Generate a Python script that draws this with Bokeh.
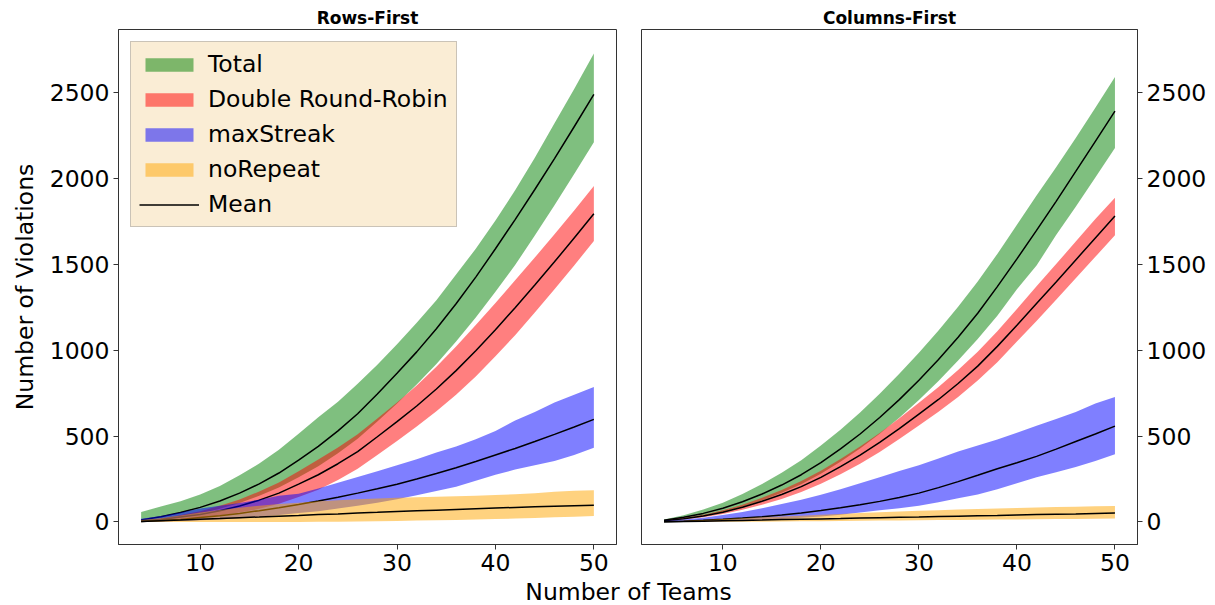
from bokeh.plotting import figure
from bokeh.models import Range1d, FixedTicker, Legend, LegendItem, Label
from bokeh.layouts import row, column
from bokeh.embed import file_html
from bokeh.resources import INLINE

teams = [4, 6, 8, 10, 12, 14, 16, 18, 20, 22, 24, 26, 28, 30, 32, 34, 36, 38, 40, 42, 44, 46, 48, 50]

# ---------------- Rows-First ----------------
rf_total_mean = [12, 30, 55, 85, 122, 168, 222, 285, 360, 440, 530, 630, 745, 865, 990, 1125, 1270, 1425, 1590, 1760, 1935, 2115, 2300, 2488]
rf_total_hi = [58, 90, 120, 160, 210, 272, 340, 420, 514, 610, 700, 805, 915, 1035, 1160, 1290, 1440, 1590, 1755, 1930, 2120, 2320, 2520, 2727]
rf_total_lo = [5, 15, 30, 50, 77, 110, 152, 200, 260, 325, 400, 485, 585, 690, 800, 920, 1050, 1190, 1340, 1495, 1667, 1843, 2025, 2210]

rf_drr_mean = [6, 15, 29, 43, 66, 93, 127, 168, 220, 275, 339, 410, 496, 584, 675, 774, 881, 996, 1119, 1247, 1379, 1514, 1653, 1794]
rf_drr_hi = [9, 21, 41, 63, 94, 131, 177, 230, 295, 363, 434, 510, 602, 696, 795, 904, 1021, 1146, 1274, 1407, 1539, 1674, 1813, 1955]
rf_drr_lo = [3, 9, 17, 23, 38, 55, 77, 106, 145, 187, 244, 310, 390, 472, 555, 644, 741, 846, 964, 1087, 1219, 1354, 1493, 1635]

rf_ms_mean = [3, 8, 15, 26, 36, 50, 66, 83, 102, 122, 144, 168, 193, 220, 250, 282, 316, 352, 390, 428, 468, 510, 553, 597]
rf_ms_hi = [19, 35, 55, 78, 95, 110, 130, 152, 165, 195, 228, 262, 295, 330, 365, 405, 440, 482, 530, 590, 640, 695, 740, 785]
rf_ms_lo = [1, 3, 6, 10, 15, 22, 30, 40, 52, 62, 78, 95, 112, 132, 155, 180, 205, 240, 275, 305, 330, 355, 390, 432]

rf_nr_mean = [3, 7, 11, 16, 20, 25, 29, 34, 38, 43, 47, 52, 56, 61, 65, 69, 73, 77, 81, 85, 88, 91, 94, 97]
rf_nr_hi = [12, 22, 38, 55, 70, 83, 95, 105, 112, 120, 126, 132, 137, 141, 144, 147, 150, 153, 157, 162, 167, 176, 182, 184]
rf_nr_lo = [0, 0, 0, 0, 0, 0, 0, 0, 0, 1, 2, 3, 4, 6, 8, 10, 12, 14, 17, 20, 23, 27, 31, 35]

# ---------------- Columns-First ----------------
cf_total_mean = [10, 27, 50, 80, 118, 163, 215, 275, 345, 425, 512, 608, 712, 825, 945, 1075, 1215, 1370, 1531, 1697, 1866, 2040, 2215, 2391]
cf_total_hi = [15, 39, 72, 112, 163, 221, 287, 360, 445, 537, 637, 746, 862, 985, 1115, 1253, 1400, 1560, 1730, 1900, 2065, 2235, 2410, 2589]
cf_total_lo = [7, 19, 36, 58, 88, 125, 170, 220, 280, 350, 427, 513, 607, 710, 820, 940, 1065, 1200, 1355, 1492, 1670, 1835, 2005, 2176]

cf_drr_mean = [7, 19, 35, 57, 86, 121, 160, 206, 260, 322, 389, 463, 543, 628, 713, 806, 907, 1022, 1145, 1272, 1397, 1525, 1653, 1781]
cf_drr_hi = [9, 23, 42, 68, 101, 141, 186, 238, 298, 366, 439, 518, 603, 694, 785, 884, 991, 1110, 1240, 1372, 1501, 1632, 1763, 1887]
cf_drr_lo = [5, 15, 28, 46, 71, 101, 134, 174, 222, 278, 339, 408, 483, 562, 641, 728, 823, 930, 1050, 1170, 1293, 1418, 1543, 1668]

cf_ms_mean = [2, 5, 10, 16, 23, 31, 41, 53, 67, 83, 100, 120, 142, 168, 200, 235, 272, 310, 345, 382, 424, 468, 512, 558]
cf_ms_hi = [6, 14, 25, 40, 58, 80, 105, 130, 158, 190, 225, 260, 297, 330, 370, 410, 445, 480, 520, 560, 600, 640, 690, 727]
cf_ms_lo = [0, 1, 3, 5, 8, 12, 17, 24, 32, 42, 55, 68, 80, 95, 115, 138, 160, 190, 225, 260, 290, 320, 355, 394]

cf_nr_mean = [1, 3, 5, 7, 9, 11, 14, 16, 18, 20, 23, 25, 27, 29, 32, 34, 36, 38, 41, 43, 45, 47, 50, 52]
cf_nr_hi = [3, 7, 12, 17, 22, 27, 32, 37, 42, 47, 52, 57, 61, 65, 69, 73, 76, 79, 82, 85, 87, 89, 91, 93]
cf_nr_lo = [0, 0, 0, 1, 1, 2, 3, 4, 5, 6, 7, 8, 9, 10, 11, 12, 13, 14, 15, 16, 17, 18, 19, 20]

series_names = ["Total", "Double Round-Robin", "maxStreak", "noRepeat"]
series_colors = ["#008000", "#FF0000", "#0000FF", "#FFA500"]
x_ticks = [10, 20, 30, 40, 50]
y_ticks = [0, 500, 1000, 1500, 2000, 2500]

FONT = "DejaVu Sans"
TICK_FS = "23.5px"
FIG_H = 578


def style_axes(p):
    p.xgrid.visible = False
    p.ygrid.visible = False
    p.outline_line_color = "#333333"
    p.outline_line_width = 1
    for ax in [p.xaxis[0], p.yaxis[0]]:
        ax.axis_line_color = "#333333"
        ax.major_tick_line_color = "#333333"
        ax.major_tick_out = 5
        ax.major_tick_in = 0
        ax.minor_tick_line_color = None
        ax.major_label_text_font = FONT
        ax.major_label_text_font_size = TICK_FS
        ax.major_label_text_color = "black"
        ax.major_label_standoff = 4
    p.xaxis[0].ticker = FixedTicker(ticks=x_ticks)
    p.yaxis[0].ticker = FixedTicker(ticks=y_ticks)
    p.title.text_font = FONT
    p.title.text_font_size = "17px"
    p.title.text_font_style = "bold"
    p.title.text_color = "black"
    p.title.align = "center"
    p.title.standoff = 4


def make_panel(title, bands, means, y_loc, w, bl, br):
    p = figure(width=w, height=FIG_H, title=title, output_backend="svg",
               toolbar_location=None, y_axis_location=y_loc,
               x_range=Range1d(1.7, 52.3), y_range=Range1d(-131, 2866),
               min_border_left=bl, min_border_right=br,
               min_border_top=29, min_border_bottom=34)
    style_axes(p)
    band_r = []
    line_r = None
    for (lo, hi), m, col in zip(bands, means, series_colors):
        r = p.varea(x=teams, y1=lo, y2=hi, fill_color=col, fill_alpha=0.5)
        band_r.append(r)
        line_r = p.line(teams, m, line_color="black", line_width=1.5)
    return p, band_r, line_r


p1, b1, l1 = make_panel(
    "Rows-First",
    [(rf_total_lo, rf_total_hi), (rf_drr_lo, rf_drr_hi), (rf_ms_lo, rf_ms_hi), (rf_nr_lo, rf_nr_hi)],
    [rf_total_mean, rf_drr_mean, rf_ms_mean, rf_nr_mean],
    "left", 628, 118, 12)
p1.yaxis[0].axis_label = "Number of Violations"
p1.yaxis[0].axis_label_text_font = FONT
p1.yaxis[0].axis_label_text_font_size = TICK_FS
p1.yaxis[0].axis_label_text_font_style = "normal"
p1.yaxis[0].axis_label_text_color = "black"
p1.yaxis[0].axis_label_standoff = 8

items = [LegendItem(label=n, renderers=[r]) for n, r in zip(series_names, b1)]
items.append(LegendItem(label="Mean", renderers=[l1]))
legend = Legend(items=items, location="top_left")
legend.label_text_font = FONT
legend.label_text_font_size = TICK_FS
legend.label_text_color = "black"
legend.glyph_width = 60
legend.glyph_height = 17
legend.label_height = 25
legend.spacing = 7
legend.padding = 8
legend.margin = 12
legend.label_standoff = 9
legend.background_fill_color = "#F5DEB3"
legend.background_fill_alpha = 0.55
legend.border_line_color = "#9a9a9a"
legend.border_line_width = 1
p1.add_layout(legend)

p2, b2, l2 = make_panel(
    "Columns-First",
    [(cf_total_lo, cf_total_hi), (cf_drr_lo, cf_drr_hi), (cf_ms_lo, cf_ms_hi), (cf_nr_lo, cf_nr_hi)],
    [cf_total_mean, cf_drr_mean, cf_ms_mean, cf_nr_mean],
    "right", 581, 13, 70)

# shared x-axis label
LAB_H = 27
p3 = figure(width=1209, height=LAB_H, output_backend="svg", toolbar_location=None,
            x_range=Range1d(0, 1209), y_range=Range1d(0, LAB_H),
            x_axis_type=None, y_axis_type=None, min_border=0)
p3.outline_line_color = None
p3.xgrid.visible = False
p3.ygrid.visible = False
p3.add_layout(Label(x=628, y=14, text="Number of Teams", text_align="center",
                    text_baseline="middle", text_font=FONT, text_font_size=TICK_FS,
                    text_color="black"))

layout = column(row(p1, p2), p3)
open("out.html", "w").write(file_html(layout, INLINE))
